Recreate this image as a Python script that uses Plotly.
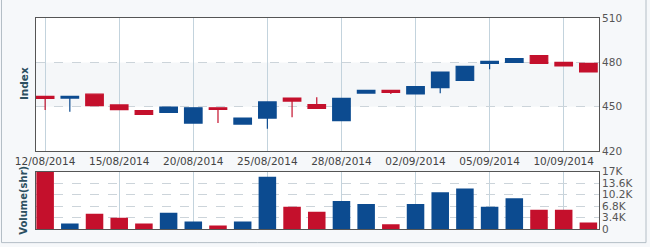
import plotly.graph_objects as go

dates = ["12/08/2014", "13/08/2014", "14/08/2014", "15/08/2014", "18/08/2014", "19/08/2014",
         "20/08/2014", "21/08/2014", "22/08/2014", "25/08/2014", "26/08/2014", "27/08/2014",
         "28/08/2014", "29/08/2014", "01/09/2014", "02/09/2014", "03/09/2014", "04/09/2014",
         "05/09/2014", "08/09/2014", "09/09/2014", "10/09/2014", "11/09/2014"]
open_ = [457.0, 455.9, 458.5, 451.3, 447.4, 446.3, 439.0, 449.3, 438.3, 442.4, 455.9, 451.5,
         440.7, 459.3, 461.1, 458.7, 463.0, 467.8, 479.4, 480.0, 484.6, 480.0, 479.4]
high = [457.0, 457.0, 458.5, 451.3, 447.4, 449.8, 449.3, 449.3, 442.4, 453.3, 455.9, 456.5,
        455.7, 461.1, 461.1, 463.7, 473.5, 477.4, 480.7, 482.6, 484.6, 480.0, 479.4]
low = [447.8, 446.7, 450.7, 448.0, 444.8, 446.3, 439.0, 439.1, 438.3, 435.2, 443.0, 448.9,
       440.7, 459.3, 458.7, 458.7, 459.1, 467.8, 475.4, 480.0, 479.4, 477.6, 473.5]
close = [455.7, 457.0, 450.7, 448.0, 444.8, 449.8, 449.3, 448.3, 442.4, 453.3, 453.9, 448.9,
         455.7, 461.1, 459.8, 463.7, 473.5, 477.4, 480.7, 482.6, 479.4, 477.6, 473.5]
volume = [16900, 1640, 4500, 3370, 1640, 4800, 2200, 1070, 2200, 15500, 6600, 5100,
          8300, 7400, 1400, 7400, 10900, 12000, 6600, 9100, 5700, 5700, 1900]

price_ticks = [420, 450, 480, 510]
vol_ticks = [0, 3400, 6800, 10200, 13600, 17000]
vol_tick_text = ["0", "3.4K", "6.8K", "10.2K", "13.6K", "17K"]
date_ticks = dates[::3]

RED = "#c4102c"
BLUE = "#0c4b90"
vol_colors = [BLUE if c >= o else RED for o, c in zip(open_, close)]

fig = go.Figure()
fig.add_trace(go.Candlestick(
    x=dates, open=open_, high=high, low=low, close=close,
    xaxis="x", yaxis="y",
    increasing=dict(line=dict(color=BLUE, width=1.2), fillcolor=BLUE),
    decreasing=dict(line=dict(color=RED, width=1.2), fillcolor=RED),
    whiskerwidth=0, showlegend=False,
))
fig.add_trace(go.Bar(
    x=dates, y=volume, xaxis="x2", yaxis="y2",
    marker=dict(color=vol_colors, line=dict(width=0)), showlegend=False,
))

font = "DejaVu Sans"
xr = [-0.37, 22.43]
common_x = dict(type="category", range=xr, tickvals=date_ticks, showgrid=True,
                gridcolor="#c3d3dd", gridwidth=1, showline=True, linecolor="#555555",
                linewidth=1, mirror=True, ticks="", zeroline=False, fixedrange=True)

fig.update_layout(
    width=650, height=247,
    margin=dict(l=36, r=51, t=14, b=16),
    paper_bgcolor="#f6f8fa", plot_bgcolor="#ffffff",
    font=dict(family=font, size=10.5, color="#444444"),
    bargap=0.29, boxgap=0.29, boxgroupgap=0,
    xaxis=dict(**common_x, domain=[0, 1], anchor="y", rangeslider=dict(visible=False),
               showticklabels=True, tickfont=dict(family=font, size=10.5, color="#444444")),
    xaxis2=dict(**common_x, domain=[0, 1], anchor="y2", showticklabels=False, matches="x"),
    yaxis=dict(domain=[0.3687, 1.0], range=[420, 510], tickvals=price_ticks, side="right",
               showgrid=True, gridcolor="#ccd4da", griddash="dash", showline=True,
               linecolor="#555555", mirror=True, ticks="", zeroline=False,
               tickfont=dict(family=font, size=10.5, color="#555555"), fixedrange=True),
    yaxis2=dict(domain=[0.0, 0.2719], range=[0, 17000], tickvals=vol_ticks, ticktext=vol_tick_text,
                side="right", showgrid=True, gridcolor="#ccd4da", griddash="dash",
                showline=True, linecolor="#555555", mirror=True, ticks="", zeroline=False,
                tickfont=dict(family=font, size=10.5, color="#555555"), fixedrange=True),
    shapes=[
        dict(type="rect", xref="x domain", yref="y", x0=0, x1=1, y0=450, y1=480,
             fillcolor="#f5f7f9", line=dict(width=0), layer="below"),
        dict(type="rect", xref="paper", yref="paper", x0=-0.0613, x1=1.0835,
             y0=-0.0645, y1=1.2, line=dict(color="#b4bec6", width=1), fillcolor="rgba(0,0,0,0)",
             layer="below"),
    ],
    annotations=[
        dict(text="<b>Index</b>", xref="paper", yref="paper", x=(24 - 36) / 563, y=(231 - 82) / 217,
             xanchor="center", yanchor="middle",
             textangle=-90, showarrow=False, font=dict(family=font, size=10.5, color="#2c4f60")),
        dict(text="<b>Volume(shr)</b>", xref="paper", yref="paper", x=(24 - 36) / 563, y=(231 - 202) / 217,
             xanchor="center", yanchor="middle",
             textangle=-90, showarrow=False, font=dict(family=font, size=10, color="#2c4f60")),
    ],
)

fig.write_html("out.html")
